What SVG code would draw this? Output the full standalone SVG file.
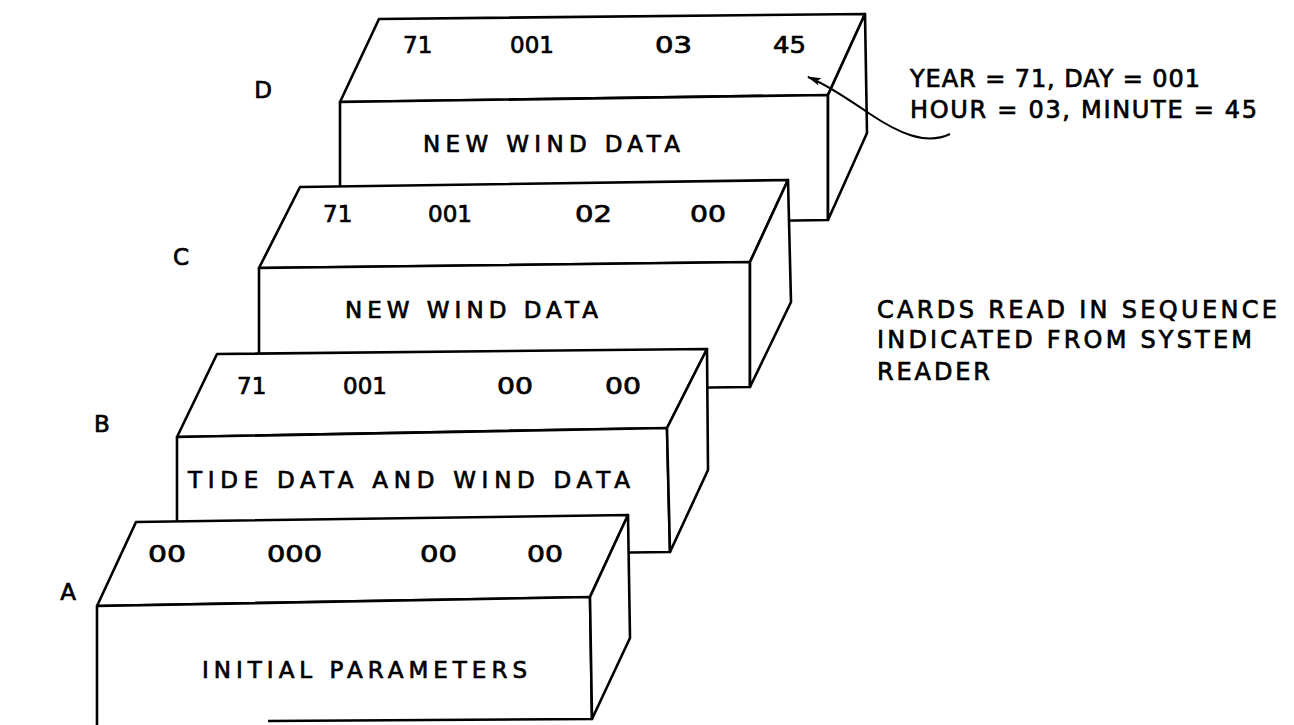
<svg xmlns="http://www.w3.org/2000/svg" width="1294" height="725" viewBox="0 0 1294 725">
<defs>
<style>
.face{fill:#fff;stroke:#000;stroke-width:2.6;stroke-linejoin:round}
.t{font-family:"DejaVu Sans","Liberation Sans",sans-serif;font-size:23px;fill:#000;stroke:#000;stroke-width:0.7}
.lbl{font-family:"DejaVu Sans","Liberation Sans",sans-serif;font-size:23px;fill:#000;stroke:#000;stroke-width:0.7;text-anchor:middle}
.note{font-family:"DejaVu Sans","Liberation Sans",sans-serif;font-size:24px;fill:#000;stroke:#000;stroke-width:0.7}
.conn{fill:none;stroke:#000;stroke-width:2}
</style>
<marker id="ah" markerWidth="14" markerHeight="10" refX="13" refY="5" orient="auto" markerUnits="userSpaceOnUse">
<path d="M0,1 L14,5 L0,9 L3,5 Z" fill="#000"/>
</marker>
</defs>
<rect width="1294" height="725" fill="#fff"/>

<g id="card-D">
<polygon class="face" points="340,102 379,19 865,14 828,95"/>
<polygon class="face" points="340,102 828,95 828,220 340,227"/>
<polygon class="face" points="828,95 865,14 867,133 828,220"/>
<text class="t" x="403" y="53">71</text>
<text class="t" x="510" y="53">001</text>
<text class="t" x="655" y="53" textLength="37" lengthAdjust="spacingAndGlyphs">03</text>
<text class="t" x="773" y="53" textLength="33" lengthAdjust="spacingAndGlyphs">45</text>
<text class="t" x="423" y="152" textLength="257" lengthAdjust="spacing">NEW WIND DATA</text>
</g>
<text id="label-D" class="lbl" x="263" y="98">D</text>

<g id="card-C">
<polygon class="face" points="259,268 300,187 788,180 750,262"/>
<polygon class="face" points="259,268 750,262 750,387 259,393"/>
<polygon class="face" points="750,262 788,180 791,302 750,387"/>
<text class="t" x="323" y="222">71</text>
<text class="t" x="428" y="222">001</text>
<text class="t" x="575" y="222" textLength="37" lengthAdjust="spacingAndGlyphs">02</text>
<text class="t" x="690" y="222" textLength="36" lengthAdjust="spacingAndGlyphs">00</text>
<text class="t" x="345" y="318" textLength="253" lengthAdjust="spacing">NEW WIND DATA</text>
</g>
<text id="label-C" class="lbl" x="181" y="265">C</text>

<g id="card-B">
<polygon class="face" points="177,437 217,354 707,349 667,428"/>
<polygon class="face" points="177,437 667,428 670,552 177,558"/>
<polygon class="face" points="667,428 707,349 708,470 670,552"/>
<text class="t" x="237" y="394">71</text>
<text class="t" x="343" y="394">001</text>
<text class="t" x="497" y="394" textLength="36" lengthAdjust="spacingAndGlyphs">00</text>
<text class="t" x="605" y="394" textLength="36" lengthAdjust="spacingAndGlyphs">00</text>
<text class="t" x="188" y="488" textLength="442" lengthAdjust="spacing">TIDE DATA AND WIND DATA</text>
</g>
<text id="label-B" class="lbl" x="102" y="432">B</text>

<g id="card-A">
<polygon class="face" points="97,606 136,522 628,515 590,597"/>
<path class="face" d="M97,726 L97,606 L590,597 L592,719 L268,721"/>
<polygon class="face" points="590,597 628,515 630,638 592,719"/>
<text class="t" x="148" y="562" textLength="38" lengthAdjust="spacingAndGlyphs">00</text>
<text class="t" x="267" y="562" textLength="55" lengthAdjust="spacingAndGlyphs">000</text>
<text class="t" x="420" y="562" textLength="37" lengthAdjust="spacingAndGlyphs">00</text>
<text class="t" x="527" y="562" textLength="36" lengthAdjust="spacingAndGlyphs">00</text>
<text class="t" x="202" y="678" textLength="325" lengthAdjust="spacing">INITIAL PARAMETERS</text>
</g>
<text id="label-A" class="lbl" x="68" y="600">A</text>

<g id="connectors">
<path class="conn" d="M950,134 C925,146 897,132 870,114 C852,102 830,86 808,77" marker-end="url(#ah)"/>
</g>

<g id="notes">
<text class="note" x="910" y="87" textLength="290" lengthAdjust="spacing">YEAR = 71, DAY = 001</text>
<text class="note" x="910" y="118" textLength="347" lengthAdjust="spacing">HOUR = 03, MINUTE = 45</text>
<text class="note" x="877" y="318" textLength="400" lengthAdjust="spacing">CARDS READ IN SEQUENCE</text>
<text class="note" x="877" y="348" textLength="375" lengthAdjust="spacing">INDICATED FROM SYSTEM</text>
<text class="note" x="877" y="380" textLength="113" lengthAdjust="spacing">READER</text>
</g>
</svg>
